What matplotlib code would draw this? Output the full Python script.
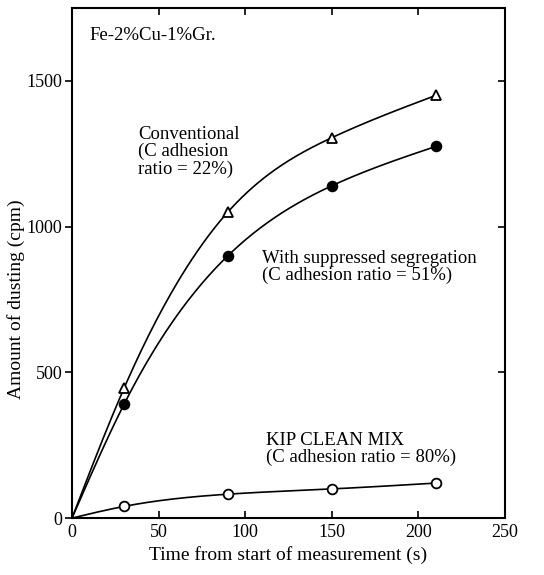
import numpy as np
import matplotlib
matplotlib.use("Agg")
import matplotlib.pyplot as plt

# Data (time in s, dusting in cpm)
time_s = [0, 30, 90, 150, 210]
conventional = [0, 445, 1050, 1305, 1450]
suppressed = [0, 390, 900, 1140, 1275]
kip_clean_mix = [0, 40, 82, 100, 120]


def natural_spline(x, y, n=200):
    # smooth curve through the measured points (natural cubic spline)
    x = np.asarray(x, float)
    y = np.asarray(y, float)
    k = len(x)
    h = np.diff(x)
    A = np.zeros((k, k))
    b = np.zeros(k)
    A[0, 0] = A[-1, -1] = 1
    for i in range(1, k - 1):
        A[i, i - 1] = h[i - 1]
        A[i, i] = 2 * (h[i - 1] + h[i])
        A[i, i + 1] = h[i]
        b[i] = 6 * ((y[i + 1] - y[i]) / h[i] - (y[i] - y[i - 1]) / h[i - 1])
    m = np.linalg.solve(A, b)
    xs = np.linspace(x[0], x[-1], n)
    idx = np.clip(np.searchsorted(x, xs) - 1, 0, k - 2)
    t0, t1 = x[idx], x[idx + 1]
    hh = t1 - t0
    ys = (m[idx] * (t1 - xs) ** 3 / (6 * hh) + m[idx + 1] * (xs - t0) ** 3 / (6 * hh)
          + (y[idx] / hh - m[idx] * hh / 6) * (t1 - xs)
          + (y[idx + 1] / hh - m[idx + 1] * hh / 6) * (xs - t0))
    return xs, ys


plt.rcParams['font.family'] = ['Liberation Serif', 'DejaVu Serif']
plt.rcParams['font.size'] = 13

fig = plt.figure(figsize=(5.44, 5.75), dpi=100)
ax = fig.add_axes([0.1324, 0.099, 0.7956, 0.887])

for series, mk, face in [(conventional, '^', 'white'),
                         (suppressed, 'o', 'black'),
                         (kip_clean_mix, 'o', 'white')]:
    xs, ys = natural_spline(time_s, series)
    ax.plot(xs, ys, color='black', lw=1.2)
    ax.plot(time_s[1:], series[1:], ls='none', marker=mk, ms=7,
            mfc=face, mec='black', mew=1.3)

ax.set_xlim(0, 250)
ax.set_ylim(0, 1750)
ax.set_xticks([0, 50, 100, 150, 200, 250])
ax.set_yticks([0, 500, 1000, 1500])
ax.tick_params(axis='x', direction='in', top=True, length=5, width=1.2,
               pad=4, labelsize=13)
ax.tick_params(axis='y', direction='out', length=5, width=1.2, pad=2,
               labelsize=13)
ax.tick_params(axis='y', which='major', right=True)
for t in ax.yaxis.get_major_ticks():
    t.tick2line.set_marker(matplotlib.lines.TICKLEFT)
for s in ax.spines.values():
    s.set_linewidth(1.5)

ax.set_xlabel('Time from start of measurement (s)', fontsize=14, labelpad=4)
ax.set_ylabel('Amount of dusting (cpm)', fontsize=14, labelpad=4)
ax.yaxis.set_label_coords(-0.108, 0.43)

note = dict(fontsize=13.5, linespacing=1.0, va='top')
ax.text(10, 1657, 'Fe-2%Cu-1%Gr.', fontsize=13.5, va='center')
ax.text(38, 1345, 'Conventional\n(C adhesion\nratio = 22%)', **note)
ax.text(110, 920, 'With suppressed segregation\n(C adhesion ratio = 51%)', **note)
ax.text(112, 295, 'KIP CLEAN MIX\n(C adhesion ratio = 80%)', **note)

fig.savefig('out.png', dpi=100)
